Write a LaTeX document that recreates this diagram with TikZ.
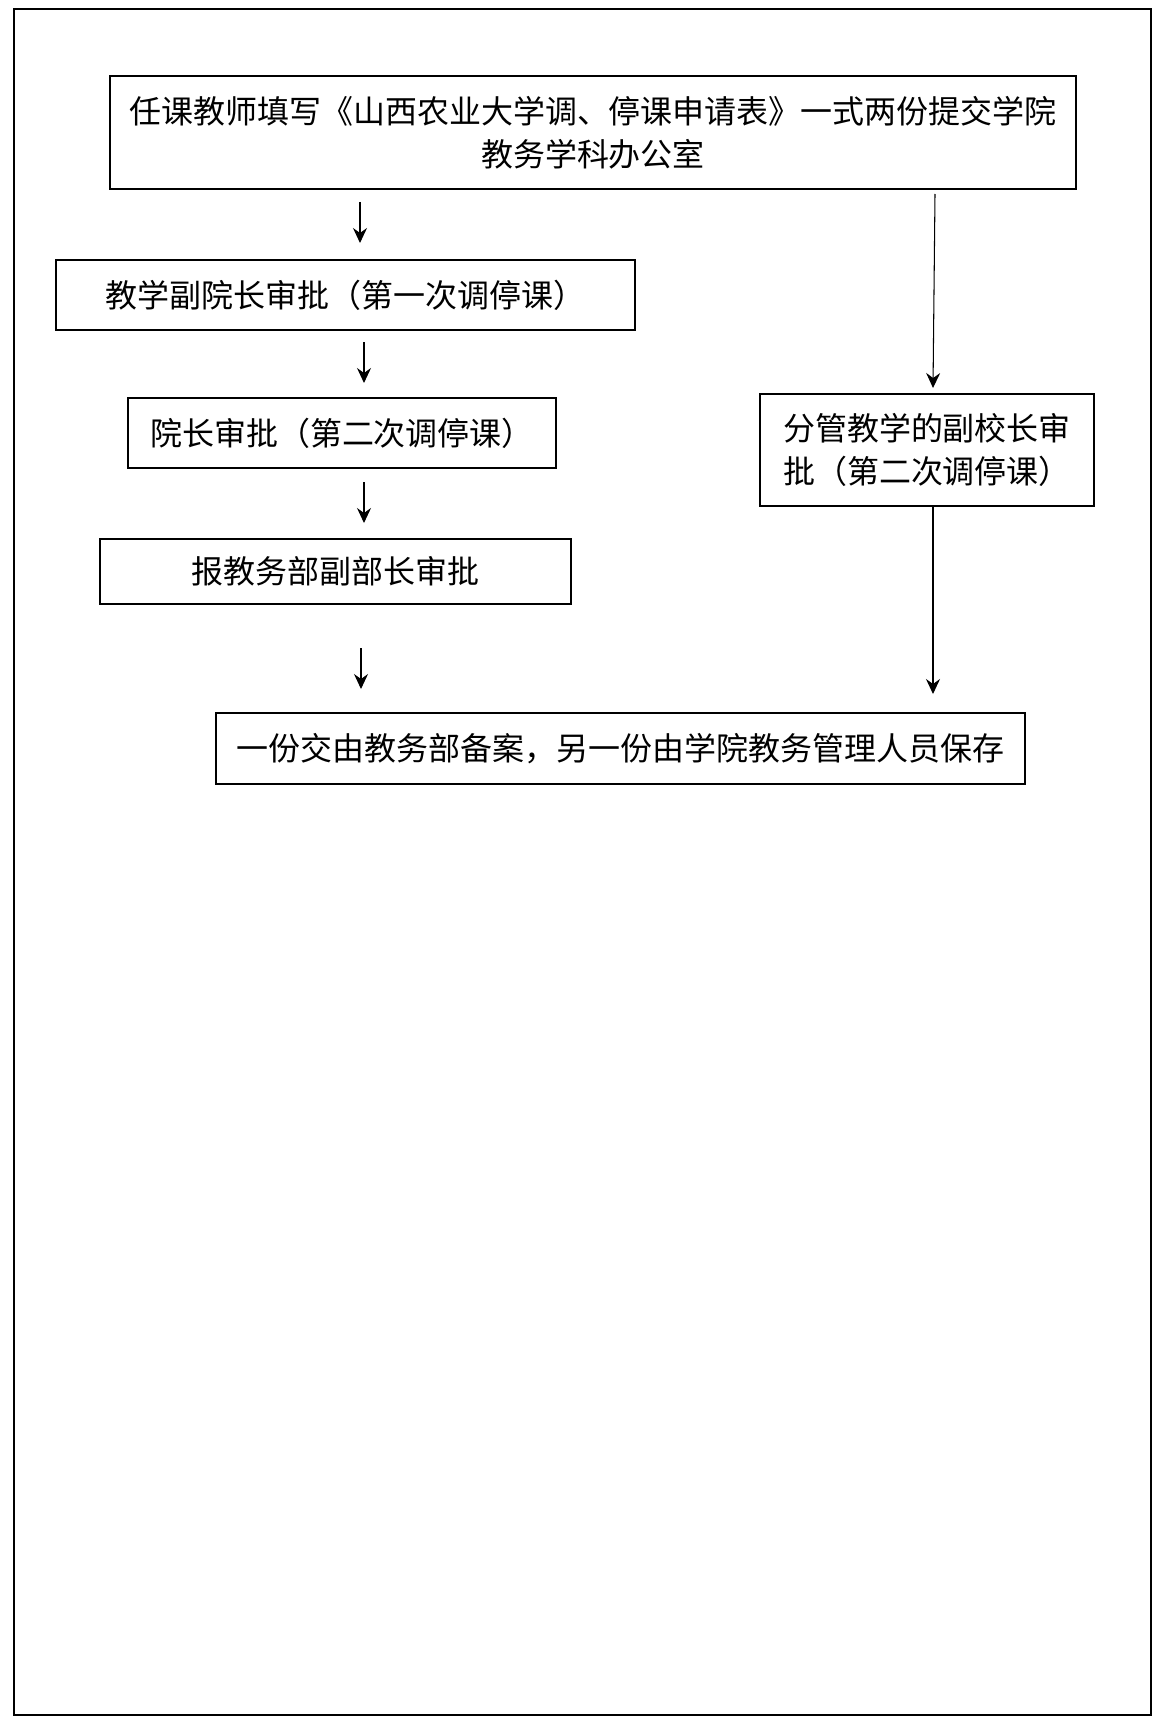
\documentclass[tikz,border=0pt]{standalone}
\usepackage{fontspec}
\setmainfont{Noto Sans CJK SC}
\usepackage{tikz}
\usetikzlibrary{arrows.meta,positioning,calc}
\tikzset{
    stepbox/.style={
        rectangle,
        draw=black,
        line width=1pt,
        inner sep=0pt,
        align=center,
        font=\fontsize{18.2}{24.5}\selectfont
    },
    flow/.style={
        -{Stealth[length=0.3cm,width=0.28cm,inset=0.1cm]},
        line width=0.6pt
    }
}

\begin{document}
\begin{tikzpicture}[x=0.02cm,y=-0.02cm]
\useasboundingbox (0,0) rectangle (1162,1730);
\draw[line width=0.6pt] (14,9) rectangle (1151,1715);

% application
\node[stepbox, minimum width=19.32cm, minimum height=2.26cm] (apply) at (593,132.5) {任课教师填写《山西农业大学调、停课申请表》一式两份提交学院\\教务学科办公室};

% left branch
\node[stepbox, minimum width=11.58cm, minimum height=1.4cm] (vice-dean) at (345.5,295) {教学副院长审批（第一次调停课）};
\node[stepbox, minimum width=8.56cm, minimum height=1.4cm] (dean) at (342,433) {院长审批（第二次调停课）};
\node[stepbox, minimum width=9.42cm, minimum height=1.3cm] (office) at (335.5,571.5) {报教务部副部长审批};

% right branch
\node[stepbox, minimum width=6.68cm, minimum height=2.24cm] (vice-president) at (927,450) {分管教学的副校长审\\批（第二次调停课）};

% archive
\node[stepbox, minimum width=16.18cm, minimum height=1.42cm] (archive) at (620.5,748.5) {一份交由教务部备案，另一份由学院教务管理人员保存};

% arrows
\coordinate (a1-top) at (360,202);
\coordinate (a1-bot) at (360,243);
\coordinate (a2-top) at (364,342);
\coordinate (a2-bot) at (364,383);
\coordinate (a3-top) at (364,482);
\coordinate (a3-bot) at (364,523);
\coordinate (a4-top) at (361,648);
\coordinate (a4-bot) at (361,689);
\coordinate (r1-top) at (935,194);
\coordinate (r1-bot) at (933,388);
\coordinate (r2-top) at (933,506);
\coordinate (r2-bot) at (933,694);

\draw[flow] (a1-top) -- (a1-bot);
\draw[flow] (a2-top) -- (a2-bot);
\draw[flow] (a3-top) -- (a3-bot);
\draw[flow] (a4-top) -- (a4-bot);
\draw[flow] (r1-top) -- (r1-bot);
\draw[flow] (r2-top) -- (r2-bot);
\end{tikzpicture}
\end{document}
